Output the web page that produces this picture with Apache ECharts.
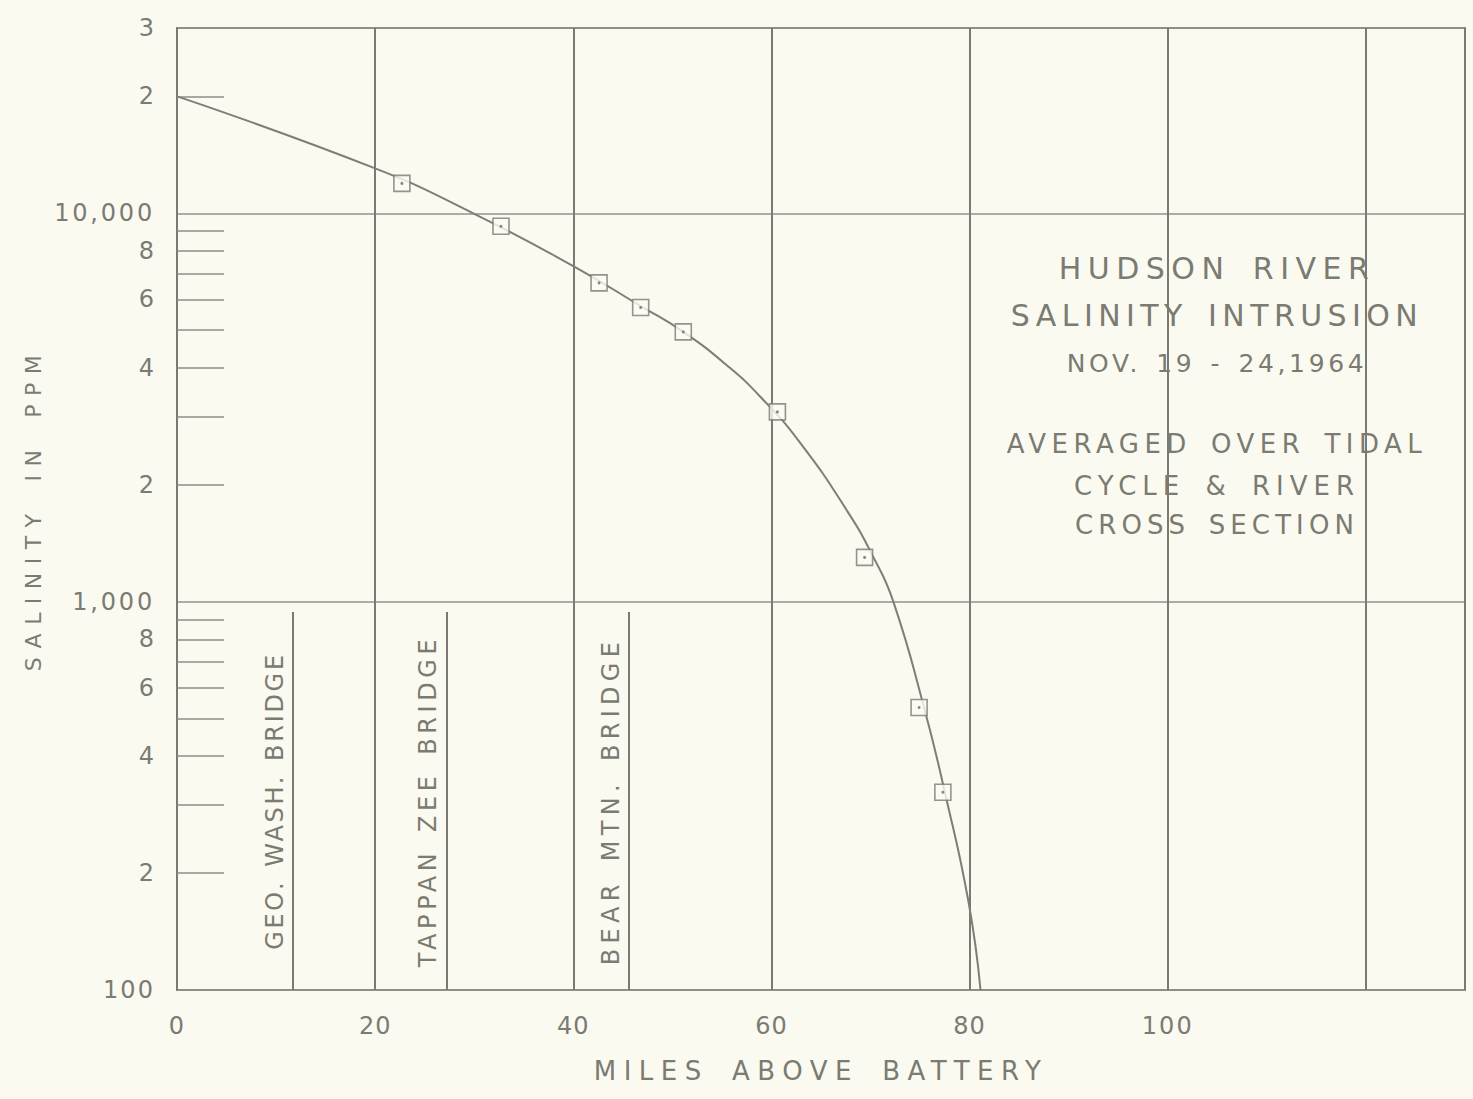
<!DOCTYPE html>
<html>
<head>
<meta charset="utf-8">
<script src="https://cdn.jsdelivr.net/npm/echarts@6/dist/echarts.min.js"></script>
<style>
html,body{margin:0;padding:0;background:#fafaf1;}
#chart{width:1473px;height:1099px;}
</style>
</head>
<body>
<div id="chart"></div>
<script>
// ---- data ----
const sampleMiles    = [22.7, 32.7, 42.6, 46.8, 51.1, 60.6, 69.4, 74.9, 77.3];
const sampleSalinity = [11940, 9260, 6620, 5720, 4950, 3080, 1300, 534, 323];

const curveMiles    = [0, 20, 29.9, 40, 46.8, 51.1, 55.6, 58.9, 62.9, 67.7, 70.3, 72.3, 75.4, 77.5, 79.9, 81.1];
const curveSalinity = [20000, 13050, 10000, 7310, 5770, 4950, 4040, 3365, 2563, 1703, 1300, 1000, 534, 323, 168, 100];

const bridgeNames = ['GEO. WASH. BRIDGE', 'TAPPAN ZEE BRIDGE', 'BEAR MTN. BRIDGE'];
const bridgeMiles = [11.7, 27.2, 45.6];
const bridgeTopSalinity = 940;

const xTickValues = [0, 20, 40, 60, 80, 100];
const yLabelValues = [100, 200, 400, 600, 800, 1000, 2000, 4000, 6000, 8000, 10000, 20000, 30000];
const yLabelTexts  = ['100', '2', '4', '6', '8', '1,000', '2', '4', '6', '8', '10,000', '2', '3'];
const yMinorTicks  = [200, 300, 400, 500, 600, 700, 800, 900, 2000, 3000, 4000, 5000, 6000, 7000, 8000, 9000, 20000];

const noteLines = ['HUDSON RIVER', 'SALINITY INTRUSION', 'NOV. 19 - 24,1964', 'AVERAGED OVER TIDAL', 'CYCLE & RIVER', 'CROSS SECTION'];

// ---- styling ----
const FONT = '"DejaVu Sans", "Liberation Sans", sans-serif';
const TXT = '#7b7b72';

// target rendered widths (px) to mimic the wide hand lettering
const targetWidths = {
  'MILES ABOVE BATTERY': 447,
  'SALINITY IN PPM': 316,
  'HUDSON RIVER': 310,
  'SALINITY INTRUSION': 407,
  'NOV. 19 - 24,1964': 297,
  'AVERAGED OVER TIDAL': 415,
  'CYCLE & RIVER': 280,
  'CROSS SECTION': 279,
  'GEO. WASH. BRIDGE': 295,
  'TAPPAN ZEE BRIDGE': 328,
  'BEAR MTN. BRIDGE': 323,
  '10,000': 98,
  '1,000': 80,
  '100': 50
};

const chart = echarts.init(document.getElementById('chart'), null, {renderer: 'svg', width: 1473, height: 1099});

const yLabelFor = function (v) {
  for (let i = 0; i < yLabelValues.length; i++) {
    if (Math.abs(Math.log10(yLabelValues[i]) - v) < 1e-6) return yLabelTexts[i];
  }
  return '';
};

const noteY = [268, 315, 363, 444, 486, 525];
const noteSize = [30, 30, 25, 26, 26, 26];

const option = {
  backgroundColor: '#fafaf1',
  animation: false,
  grid: {left: 177, right: 8, top: 28, bottom: 109, show: true, borderColor: '#86867e', borderWidth: 2},
  xAxis: {
    type: 'value', min: 0, max: 130, interval: 20,
    name: 'MILES ABOVE BATTERY', nameLocation: 'middle', nameGap: 68,
    nameTextStyle: {fontFamily: FONT, fontSize: 26, color: TXT},
    axisLine: {show: false}, axisTick: {show: false},
    axisLabel: {
      margin: 24, fontSize: 24, fontFamily: FONT, color: TXT,
      showMaxLabel: false,
      formatter: function (v) { return xTickValues.indexOf(v) >= 0 ? String(v) : ''; }
    },
    splitLine: {show: true, lineStyle: {color: '#7a7a72', width: 2}}
  },
  yAxis: [
    {
      type: 'log', logBase: 10, min: 100, max: 30000,
      axisLine: {show: false}, axisTick: {show: false}, axisLabel: {show: false},
      splitLine: {show: true, lineStyle: {color: '#92928a', width: 1.6}}
    },
    {
      type: 'value', min: 2, max: Math.log10(30000), position: 'left',
      name: 'SALINITY IN PPM', nameLocation: 'middle', nameGap: 133, nameRotate: 90,
      nameTextStyle: {fontFamily: FONT, fontSize: 22, color: TXT},
      axisLine: {show: false}, splitLine: {show: false},
      axisTick: {show: true, inside: true, length: 47, customValues: yMinorTicks.map(Math.log10),
                 lineStyle: {color: '#8e8e86', width: 1.5}},
      axisLabel: {show: true, customValues: yLabelValues.map(Math.log10), formatter: yLabelFor,
                  margin: 22, fontSize: 24, fontFamily: FONT, color: TXT}
    }
  ],
  graphic: noteLines.map(function (t, i) {
    return {
      type: 'text', x: 1217, y: noteY[i], silent: true,
      style: {text: t, fontSize: noteSize[i], fontFamily: FONT, fill: TXT, align: 'center', verticalAlign: 'middle'}
    };
  }),
  series: [
    {
      type: 'line', name: 'curve', xAxisIndex: 0, yAxisIndex: 0,
      data: curveMiles.map(function (m, i) { return [m, curveSalinity[i]]; }),
      smooth: 0.5, showSymbol: false, symbol: 'none',
      lineStyle: {color: '#7e7e76', width: 2},
      z: 2,
      markLine: {
        silent: true, symbol: ['none', 'none'], animation: false,
        lineStyle: {color: '#7a7a72', width: 2, type: 'solid'},
        label: {show: true, position: 'insideMiddleTop', distance: 6, formatter: '{b}',
                fontFamily: FONT, fontSize: 24, color: TXT},
        data: bridgeMiles.map(function (m, i) {
          return [{name: bridgeNames[i], coord: [m, 100]}, {coord: [m, bridgeTopSalinity]}];
        })
      }
    },
    {
      type: 'scatter', name: 'samples', xAxisIndex: 0, yAxisIndex: 0,
      data: sampleMiles.map(function (m, i) { return [m, sampleSalinity[i]]; }),
      symbol: 'rect', symbolSize: 16,
      itemStyle: {color: '#fbfbf4', borderColor: '#7a7a72', borderWidth: 1.6},
      z: 3
    },
    {
      type: 'scatter', name: 'sampleDots', xAxisIndex: 0, yAxisIndex: 0,
      data: sampleMiles.map(function (m, i) { return [m, sampleSalinity[i]]; }),
      symbol: 'circle', symbolSize: 3,
      itemStyle: {color: '#6c6c64'},
      z: 4
    }
  ]
};

chart.setOption(option);

function spaceLetters() {
  const texts = document.querySelectorAll('#chart svg text');
  texts.forEach(function (el) {
    const s = (el.textContent || '').trim();
    el.removeAttribute('letter-spacing');
    el.removeAttribute('word-spacing');
    let ls = 0, ws = 0;
    const n = s.length;
    const spaces = (s.match(/ /g) || []).length;
    if (targetWidths[s] !== undefined && n > 1) {
      let w0 = 0;
      try { w0 = el.getComputedTextLength(); } catch (e) { w0 = 0; }
      if (w0 > 0) {
        ls = (targetWidths[s] - w0) / ((n - 1) + 1.0 * spaces);
        if (ls < 0) ls = 0;
        ws = ls;
      }
    } else if (/^[0-9]+$/.test(s)) {
      ls = 1;
    }
    if (ls > 0) {
      el.setAttribute('letter-spacing', ls.toFixed(2));
      if (ws > 0) el.setAttribute('word-spacing', ws.toFixed(2));
    }
  });
}
spaceLetters();
chart.on('finished', spaceLetters);
setTimeout(spaceLetters, 50);
</script>
</body>
</html>
